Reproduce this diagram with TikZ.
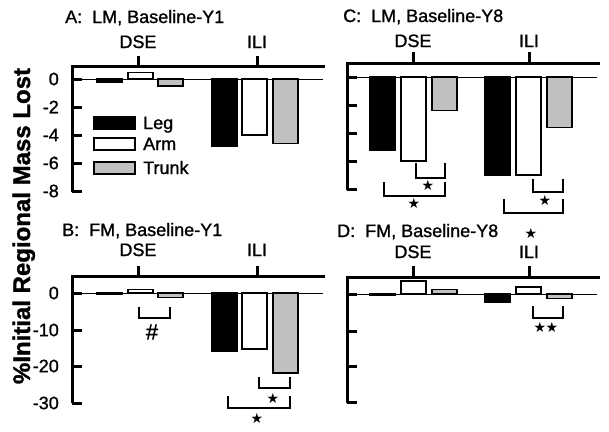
\documentclass[tikz,border=0pt]{standalone}
\usepackage{fontspec}
\setmainfont{Liberation Sans}[FakeBold=1.2]
\newfontfamily\starfont{DejaVu Sans}
\definecolor{TrunkGray}{RGB}{192,192,192}

\begin{document}
\begin{tikzpicture}[x=1pt, y=-1pt,
        axisline/.style={line width=3pt, line join=miter},
        zeroline/.style={line width=0.8pt},
        bar/.style={draw=black, line width=1.5pt},
        bracket/.style={line width=1.5pt},
        title/.style={anchor=base west, inner sep=0pt, font=\fontsize{18}{20}\selectfont},
        group/.style={anchor=base, inner sep=0pt, font=\fontsize{18}{20}\selectfont},
        ticklabel/.style={anchor=east, inner sep=0pt, font=\fontsize{18}{20}\selectfont},
        star/.style={inner sep=0pt, font=\starfont\fontsize{14}{15}\selectfont},
    ]
    \useasboundingbox (0,0) rectangle (609,431);

    % Common y label
    \node (ylabel) at (30,226) [anchor=base, rotate=90, inner sep=0pt,
        font=\bfseries\fontsize{24}{26}\selectfont] {\%Initial Regional Mass Lost};

    % A: LM, Baseline-Y1
    \node (titleA) at (65,23) [title] {A:~ LM, Baseline-Y1};
    \draw [axisline] (72,192) -- (72,66) -- (325,66);
    \draw [axisline] (138,66) -- (138,56);
    \draw [axisline] (257,66) -- (257,56);
    \node (dseA) at (138,48) [group] {DSE};
    \node (iliA) at (257,48) [group] {ILI};
    \foreach \y/\ytext [count=\i] in {79/0, 107/-2, 135/-4, 163/-6, 191/-8} {
        \draw [axisline] (72,\y) -- (82,\y);
        \node (labA\i) at (59,\y) [ticklabel] {\ytext};
    }
    \draw [zeroline] (72,79) -- (323,79);
    \foreach \x/\v/\c in {97/-0.2/black, 128/0.45/white, 158/-0.5/TrunkGray,
                          212/-4.8/black, 242/-4.0/white, 273/-4.6/TrunkGray}
        \filldraw [bar, fill=\c] (\x,79) rectangle ++(25,{-14*\v});

    % Legend
    \foreach \yb/\c/\name [count=\i] in {129/black/Leg, 150/white/Arm, 174/TrunkGray/Trunk} {
        \filldraw [bar, fill=\c] (94,\yb-12) rectangle (135,\yb);
        \node (legend\i) at (143,\yb) [title] {\name};
    }

    % C: LM, Baseline-Y8
    \node (titleC) at (343,22) [title] {C:~ LM, Baseline-Y8};
    \draw [axisline] (347,190) -- (347,63) -- (600,63);
    \draw [axisline] (413,63) -- (413,52);
    \draw [axisline] (529,63) -- (529,52);
    \node (dseC) at (413,47) [group] {DSE};
    \node (iliC) at (529,47) [group] {ILI};
    \foreach \y in {77, 105, 133, 161, 189}
        \draw [axisline] (347,\y) -- (357,\y);
    \draw [zeroline] (347,77) -- (597,77);
    \foreach \x/\v/\c in {370/-5.2/black, 401/-6.0/white, 432/-2.4/TrunkGray,
                          485/-7.0/black, 516/-7.0/white, 547/-3.6/TrunkGray}
        \filldraw [bar, fill=\c] (\x,77) rectangle ++(25,{-14*\v});
    \foreach \xa/\xb/\ya/\yb in {416/445/163/178, 384/445/182/196, 533/563/179/192, 504/563/199/213}
        \draw [bracket] (\xa,\ya) |- (\xb,\yb) -- (\xb,\ya);
    \node (starC1) at (428,185) [star] {★};
    \node (starC2) at (414,203) [star] {★};
    \node (starC3) at (545,200) [star] {★};
    \node (starC4) at (531,233) [star] {★};

    % B: FM, Baseline-Y1
    \node (titleB) at (62,236) [title] {B:~ FM, Baseline-Y1};
    \draw [axisline] (72,403) -- (72,276) -- (325,276);
    \draw [axisline] (138,276) -- (138,266);
    \draw [axisline] (257,276) -- (257,266);
    \node (dseB) at (138,256) [group] {DSE};
    \node (iliB) at (257,256) [group] {ILI};
    \foreach \y/\ytext [count=\i] in {293/0, 330/-10, 366/-20, 403/-30} {
        \draw [axisline] (72,\y) -- (82,\y);
        \node (labB\i) at (59,\y) [ticklabel] {\ytext};
    }
    \draw [zeroline] (72,293) -- (323,293);
    \foreach \x/\v/\c in {97/-0.3/black, 128/0.9/white, 158/-1.2/TrunkGray,
                          212/-15.9/black, 242/-15.3/white, 273/-21.9/TrunkGray}
        \filldraw [bar, fill=\c] (\x,293) rectangle ++(25,{-3.65*\v});
    \foreach \xa/\xb/\ya/\yb in {139/170/307/318, 259/290/377/388, 228/290/396/408}
        \draw [bracket] (\xa,\ya) |- (\xb,\yb) -- (\xb,\ya);
    \node (hashB) at (152,332) [inner sep=0pt, font=\fontsize{22}{24}\selectfont] {\#};
    \node (starB1) at (273,398) [star] {★};
    \node (starB2) at (257,418) [star] {★};

    % D: FM, Baseline-Y8
    \node (titleD) at (337,237) [title] {D:~ FM, Baseline-Y8};
    \draw [axisline] (347,403) -- (347,277) -- (600,277);
    \draw [axisline] (413,277) -- (413,266);
    \draw [axisline] (529,277) -- (529,266);
    \node (dseD) at (413,258) [group] {DSE};
    \node (iliD) at (529,258) [group] {ILI};
    \foreach \y in {294, 331, 366, 402}
        \draw [axisline] (347,\y) -- (357,\y);
    \draw [zeroline] (347,294) -- (597,294);
    \foreach \x/\v/\c in {370/-0.3/black, 401/3.5/white, 432/1.3/TrunkGray,
                          485/-2.2/black, 516/1.9/white, 547/-1.2/TrunkGray}
        \filldraw [bar, fill=\c] (\x,294) rectangle ++(25,{-3.65*\v});
    \draw [bracket] (533,306) |- (563,318) -- (563,306);
    \node (starD1) at (540,327) [star] {★};
    \node (starD2) at (552,327) [star] {★};
\end{tikzpicture}
\end{document}
